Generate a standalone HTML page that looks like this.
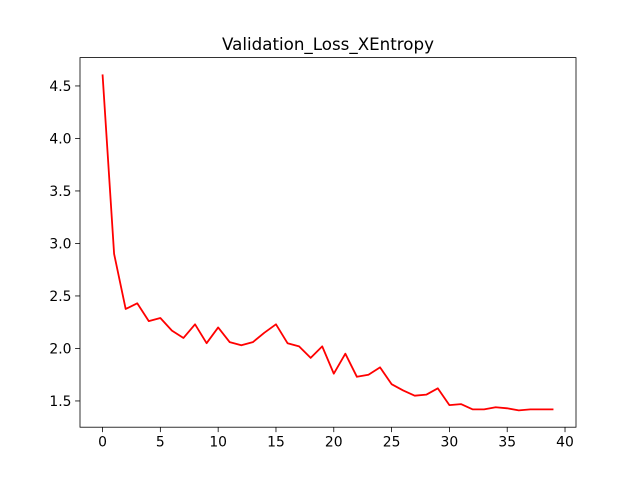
<!DOCTYPE html>
<html><head><meta charset="utf-8"><style>body{margin:0;background:#fff}svg text{font-family:"DejaVu Sans","Liberation Sans",sans-serif;fill:#000}</style></head>
<body>
<svg id="chart" width="640" height="480" xmlns="http://www.w3.org/2000/svg">
<rect width="640" height="480" fill="#fff"/>
<text x="328" y="50" font-size="16.7" text-anchor="middle">Validation_Loss_XEntropy</text>
<g id="grid"></g>
<path id="line" fill="none" stroke="#ff0000" stroke-width="1.8" stroke-linejoin="round"/>
<rect x="80" y="57.6" width="496" height="369.6" fill="none" stroke="#000" stroke-width="0.8"/>
</svg>
<script>
const epochs=[0,1,2,3,4,5,6,7,8,9,10,11,12,13,14,15,16,17,18,19,20,21,22,23,24,25,26,27,28,29,30,31,32,33,34,35,36,37,38,39];
const losses=[4.61,2.90,2.376,2.43,2.26,2.29,2.17,2.10,2.23,2.05,2.20,2.06,2.03,2.06,2.15,2.23,2.05,2.02,1.91,2.02,1.76,1.95,1.73,1.75,1.82,1.66,1.60,1.55,1.56,1.62,1.46,1.47,1.42,1.42,1.44,1.43,1.41,1.42,1.42,1.42];
const xTicks=[0,5,10,15,20,25,30,35,40];
const yTicks=[1.5,2.0,2.5,3.0,3.5,4.0,4.5];
const L=80,R=576,T=57.6,B=427.2;
const x0=-1.95,x1=40.95,y0=1.25,y1=4.77;
function sx(v){return L+(v-x0)/(x1-x0)*(R-L);}
function sy(v){return B-(v-y0)/(y1-y0)*(B-T);}
const NS="http://www.w3.org/2000/svg",g=document.getElementById('grid');
xTicks.forEach(t=>{const l=document.createElementNS(NS,'line');l.setAttribute('x1',sx(t));l.setAttribute('x2',sx(t));l.setAttribute('y1',B);l.setAttribute('y2',B+4.9);l.setAttribute('stroke','#000');l.setAttribute('stroke-width','0.8');


g.appendChild(l);const tx=document.createElementNS(NS,'text');tx.setAttribute('x',sx(t));tx.setAttribute('y',B+19.5);tx.setAttribute('font-size','13.9');tx.setAttribute('text-anchor','middle');tx.textContent=t;


g.appendChild(tx);});
yTicks.forEach(t=>{const l=document.createElementNS(NS,'line');l.setAttribute('x1',L-4.9);l.setAttribute('x2',L);l.setAttribute('y1',sy(t));l.setAttribute('y2',sy(t));l.setAttribute('stroke','#000');l.setAttribute('stroke-width','0.8');


g.appendChild(l);const tx=document.createElementNS(NS,'text');tx.setAttribute('x',L-8.5);tx.setAttribute('y',sy(t)+5);tx.setAttribute('font-size','13.9');tx.setAttribute('text-anchor','end');tx.textContent=t.toFixed(1);


g.appendChild(tx);});
document.getElementById('line').setAttribute('d',epochs.map((e,i)=>(i?'L':'M')+sx(e).toFixed(2)+','+sy(losses[i]).toFixed(2)).join(''));
</script>
</body></html>
